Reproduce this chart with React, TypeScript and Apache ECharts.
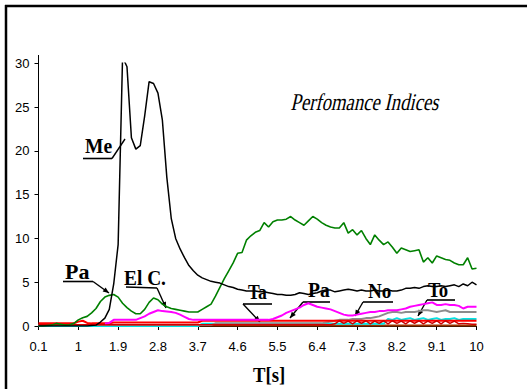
import React, { useEffect, useRef } from "react";
import * as echarts from "echarts";

const categories = [
  "0.1","0.2","0.3","0.4","0.5","0.6","0.7","0.8","0.9","1",
  "1.1","1.2","1.3","1.4","1.5","1.6","1.7","1.8","1.9","2",
  "2.1","2.2","2.3","2.4","2.5","2.6","2.7","2.8","2.9","3",
  "3.1","3.2","3.3","3.4","3.5","3.6","3.7","3.8","3.9","4",
  "4.1","4.2","4.3","4.4","4.5","4.6","4.7","4.8","4.9","5",
  "5.1","5.2","5.3","5.4","5.5","5.6","5.7","5.8","5.9","6",
  "6.1","6.2","6.3","6.4","6.5","6.6","6.7","6.8","6.9","7",
  "7.1","7.2","7.3","7.4","7.5","7.6","7.7","7.8","7.9","8",
  "8.1","8.2","8.3","8.4","8.5","8.6","8.7","8.8","8.9","9",
  "9.1","9.2","9.3","9.4","9.5","9.6","9.7","9.8","9.9","10",
];

// black "Me"
const meValues = [
  0, 0, 0, 0, 0, 0, 0, 0, 0, 0,
  0, 0, 0.05, 0.1, 0.45, 0.9, 1.9, 4.8, 9.3, 30.7,
  29.6, 21.5, 20.2, 20.6, 24.0, 27.9, 27.7, 26.6, 23.5, 17.0,
  12.3, 10.0, 8.8, 7.8, 6.9, 6.3, 5.8, 5.5, 5.3, 5.1,
  5.0, 4.9, 4.7, 4.5, 4.4, 4.2, 4.1, 4.0, 4.0, 4.0,
  3.9, 3.9, 3.8, 3.7, 3.6, 3.6, 3.5, 3.5, 3.6, 3.8,
  3.7, 3.6, 3.7, 3.8, 4.0, 4.1, 4.1, 3.9, 4.0, 4.1,
  4.2, 4.1, 4.0, 4.1, 4.0, 4.0, 4.1, 4.0, 4.0, 4.1,
  4.0, 4.0, 4.1, 4.3, 4.3, 4.4, 4.3, 4.5, 4.6, 4.5,
  4.5, 4.6, 4.5, 4.6, 4.7, 4.5, 4.8, 4.6, 5.0, 4.7,
];

// green "Pa"
const paValues = [
  0, 0, 0.05, 0.1, 0.3, 0.2, 0.1, 0.15, 0.3, 0.7,
  0.95, 1.1, 1.5, 2.0, 2.8, 3.3, 3.5, 3.6, 3.3, 2.6,
  2.1, 1.7, 1.4, 1.4, 1.9, 2.7, 3.2, 3.0, 2.5, 2.2,
  2.0, 1.9, 1.8, 1.7, 1.6, 1.6, 1.6, 1.9, 2.2, 2.5,
  3.4, 4.4, 5.4, 6.3, 7.2, 8.3, 8.4, 9.8, 10.3, 10.7,
  10.9, 11.8, 11.3, 11.9, 12.1, 12.1, 12.2, 12.5, 12.1, 11.8,
  11.5, 12.0, 12.5, 12.2, 11.8, 11.5, 11.3, 11.2, 11.2, 11.8,
  10.6, 11.0, 10.4, 10.9, 10.0, 9.3, 10.4, 9.8, 9.3, 9.6,
  9.0, 8.3, 8.9, 8.7, 8.5, 8.6, 8.7, 7.3, 7.8, 7.2,
  8.0, 7.8, 7.6, 7.5, 7.2, 7.0, 7.0, 7.8, 6.5, 6.6,
];

// magenta "El C." (not visible before 1.6 s)
const elcValues = [
  null, null, null, null, null, null, null, null, null, null,
  null, null, null, null, null, 0.3, 0.35, 0.7, 0.7, 0.7,
  0.7, 0.7, 0.7, 0.9, 1.1, 1.4, 1.6, 1.8, 1.7, 1.65,
  1.6, 1.5, 1.3, 1.05, 0.8, 0.7, 0.7, 0.7, 0.7, 0.7,
  0.7, 0.7, 0.7, 0.7, 0.7, 0.7, 0.7, 0.7, 0.7, 0.7,
  0.7, 0.7, 0.7, 0.8, 1.0, 1.2, 1.5, 1.7, 1.9, 2.1,
  2.4, 2.6, 2.4, 2.2, 2.1, 2.0, 1.9, 1.7, 1.5, 1.3,
  1.2, 1.2, 1.3, 1.4, 1.5, 1.6, 1.6, 1.7, 1.7, 1.8,
  1.8, 1.8, 1.9, 2.0, 2.2, 2.3, 2.4, 2.5, 2.6, 2.7,
  2.4, 2.4, 2.5, 2.4, 2.4, 2.3, 2.0, 2.2, 2.2, 2.2,
];

// grey "No"
const noValues = [
  0.1, 0.1, 0.1, 0.1, 0.1, 0.1, 0.1, 0.1, 0.1, 0.1,
  0.1, 0.1, 0.1, 0.1, 0.1, 0.1, 0.1, 0.1, 0.1, 0.1,
  0.1, 0.1, 0.1, 0.1, 0.1, 0.1, 0.1, 0.1, 0.1, 0.1,
  0.1, 0.1, 0.1, 0.1, 0.1, 0.1, 0.1, 0.1, 0.1, 0.1,
  0.3, 0.3, 0.3, 0.3, 0.3, 0.3, 0.3, 0.3, 0.3, 0.3,
  0.3, 0.3, 0.3, 0.3, 0.3, 0.3, 0.3, 0.3, 0.3, 0.3,
  0.3, 0.3, 0.3, 0.3, 0.3, 0.4, 0.5, 0.6, 0.7, 0.7,
  0.7, 0.8, 0.8, 0.8, 0.9, 0.9, 1.0, 1.1, 1.3, 1.5,
  1.6, 1.6, 1.5, 1.6, 1.6, 1.6, 1.7, 1.8, 1.8, 1.7,
  1.6, 1.7, 1.8, 1.6, 1.6, 1.6, 1.6, 1.6, 1.6, 1.6,
];

// cyan "Ta"
const taValues = [
  0, 0, 0, 0, 0, 0, 0, 0, 0, 0,
  0, 0, 0, 0, 0, 0, 0, 0, 0, 0,
  0, 0, 0, 0, 0, 0, 0, 0, 0, 0,
  0, 0, 0, 0, 0, 0, 0, 0.25, 0.25, 0.25,
  0.25, 0.25, 0.25, 0.25, 0.25, 0.25, 0.25, 0.25, 0.25, 0.25,
  0.25, 0.25, 0.25, 0.25, 0.25, 0.25, 0.25, 0.25, 0.25, 0.25,
  0.25, 0.25, 0.25, 0.25, 0.25, 0.25, 0.25, 0.25, 0.25, 0.25,
  0.25, 0.25, 0.25, 0.25, 0.25, 0.25, 0.25, 0.25, 0.25, 0.8,
  0.7, 0.9, 0.7, 0.8, 0.9, 0.7, 0.8, 0.9, 0.7, 0.8,
  0.9, 0.7, 0.8, 0.8, 0.9, 0.7, 0.8, 0.8, 0.8, 0.8,
];

// red
const redValues = [
  0.3, 0.3, 0.3, 0.3, 0.3, 0.3, 0.3, 0.3, 0.3, 0.5,
  0.6, 0.35, 0.3, 0.3, 0.3, 0.3, 0.3, 0.4, 0.4, 0.4,
  0.4, 0.4, 0.4, 0.4, 0.4, 0.4, 0.4, 0.4, 0.4, 0.4,
  0.4, 0.4, 0.4, 0.4, 0.4, 0.4, 0.4, 0.6, 0.6, 0.6,
  0.6, 0.6, 0.6, 0.6, 0.6, 0.6, 0.6, 0.6, 0.6, 0.6,
  0.6, 0.6, 0.6, 0.6, 0.6, 0.6, 0.6, 0.6, 0.6, 0.6,
  0.6, 0.6, 0.6, 0.6, 0.6, 0.6, 0.6, 0.6, 0.6, 0.6,
  0.6, 0.6, 0.6, 0.6, 0.6, 0.6, 0.6, 0.6, 0.6, 0.6,
  0.6, 0.6, 0.6, 0.6, 0.6, 0.6, 0.6, 0.6, 0.6, 0.6,
  0.6, 0.6, 0.6, 0.6, 0.6, 0.6, 0.6, 0.6, 0.6, 0.6,
];

// dark red "To"
const toValues = [
  0.15, 0.15, 0.15, 0.15, 0.15, 0.15, 0.15, 0.15, 0.15, 0.15,
  0.15, 0.15, 0.15, 0.15, 0.15, 0.15, 0.15, 0.15, 0.15, 0.15,
  0.15, 0.15, 0.15, 0.15, 0.15, 0.15, 0.15, 0.15, 0.15, 0.15,
  0.15, 0.15, 0.15, 0.15, 0.15, 0.15, 0.15, 0.15, 0.15, 0.15,
  0.15, 0.15, 0.15, 0.15, 0.15, 0.15, 0.15, 0.15, 0.15, 0.15,
  0.15, 0.15, 0.15, 0.15, 0.15, 0.15, 0.15, 0.15, 0.15, 0.15,
  0.15, 0.15, 0.15, 0.15, 0.15, 0.15, 0.15, 0.25, 0.6, 0.3,
  0.55, 0.25, 0.6, 0.3, 0.6, 0.25, 0.55, 0.3, 0.6, 0.25,
  0.6, 0.3, 0.55, 0.25, 0.6, 0.3, 0.6, 0.25, 0.55, 0.3,
  0.6, 0.25, 0.6, 0.3, 0.55, 0.25, 0.3, 0.25, 0.2, 0.2,
];

// brown baseline
const brownValues = [
  0.05, 0.05, 0.05, 0.05, 0.05, 0.05, 0.05, 0.05, 0.05, 0.05,
  0.05, 0.05, 0.05, 0.05, 0.05, 0.05, 0.05, 0.05, 0.05, 0.05,
  0.05, 0.05, 0.05, 0.05, 0.05, 0.05, 0.05, 0.05, 0.05, 0.05,
  0.05, 0.05, 0.05, 0.05, 0.05, 0.05, 0.05, 0.05, 0.05, 0.05,
  0.05, 0.05, 0.05, 0.05, 0.05, 0.05, 0.05, 0.05, 0.05, 0.05,
  0.05, 0.05, 0.05, 0.05, 0.05, 0.05, 0.05, 0.05, 0.05, 0.05,
  0.05, 0.05, 0.05, 0.05, 0.05, 0.05, 0.05, 0.05, 0.05, 0.05,
  0.05, 0.05, 0.05, 0.05, 0.05, 0.05, 0.05, 0.05, 0.05, 0.05,
  0.05, 0.05, 0.05, 0.05, 0.05, 0.05, 0.05, 0.05, 0.05, 0.05,
  0.05, 0.05, 0.05, 0.05, 0.05, 0.05, 0.05, 0.05, 0.05, 0.05,
];

const titleText = "Perfomance Indices";
const xAxisTitle = "T[s]";

type Pt = [number, number];
interface Note { text: string; x: number; y: number; sx: number; under: [Pt, Pt]; leader: [Pt, Pt]; arrow: boolean; }

const notes: Note[] = [
  { text: "Me", x: 85, y: 146, sx: 0.89, under: [[83, 158.5], [112, 158.5]], leader: [[112, 158.5], [125, 139]], arrow: false },
  { text: "Pa", x: 65, y: 271, sx: 1.0, under: [[63, 281.5], [93, 281.5]], leader: [[93, 281.5], [109, 293]], arrow: true },
  { text: "El C.", x: 124, y: 278, sx: 0.88, under: [[126, 287], [157, 288]], leader: [[157, 288], [166, 308]], arrow: true },
  { text: "Ta", x: 248, y: 291, sx: 0.8, under: [[243, 304], [272, 304]], leader: [[243, 304], [260, 322]], arrow: true },
  { text: "Pa", x: 308, y: 290, sx: 0.89, under: [[303, 302], [330, 302]], leader: [[303, 302], [290, 318]], arrow: true },
  { text: "No", x: 368, y: 291, sx: 0.87, under: [[363, 302], [393, 302]], leader: [[363, 302], [355, 316]], arrow: true },
  { text: "To", x: 428, y: 289, sx: 0.85, under: [[427, 300], [455, 300]], leader: [[427, 300], [418, 316]], arrow: true },
];

const SERIF = "'Liberation Serif'";

function buildNotes(): any[] {
  const els: any[] = [];
  for (const n of notes) {
    els.push({
      type: "text", x: n.x, y: n.y, scaleX: n.sx,
      style: { text: n.text, x: 0, y: 0, fill: "#000", fontFamily: SERIF, fontWeight: "bold", fontSize: 22, align: "left", verticalAlign: "middle" },
    });
    els.push({ type: "line", shape: { x1: n.under[0][0], y1: n.under[0][1], x2: n.under[1][0], y2: n.under[1][1] }, style: { stroke: "#000", lineWidth: 1.6 } });
    els.push({ type: "line", shape: { x1: n.leader[0][0], y1: n.leader[0][1], x2: n.leader[1][0], y2: n.leader[1][1] }, style: { stroke: "#000", lineWidth: 1.4 } });
    if (n.arrow) {
      const [sx, sy] = n.leader[0];
      const [tx, ty] = n.leader[1];
      const len = Math.hypot(tx - sx, ty - sy);
      const dx = (tx - sx) / len, dy = (ty - sy) / len;
      const bx = tx - dx * 6, by = ty - dy * 6;
      const px = -dy, py = dx;
      els.push({ type: "polygon", shape: { points: [[tx, ty], [bx + px * 2.6, by + py * 2.6], [bx - px * 2.6, by - py * 2.6]] }, style: { fill: "#000" } });
    }
  }
  return els;
}

export default function App() {
  const ref = useRef<HTMLDivElement>(null);
  useEffect(() => {
    if (!ref.current) return;
    const chart = echarts.init(ref.current, null, { renderer: "svg" });
    const line = (name: string, data: (number | null)[], color: string, width: number) => ({
      name, type: "line", data, symbol: "none", showSymbol: false,
      lineStyle: { color, width }, itemStyle: { color }, z: 2,
    });
    chart.setOption({
      animation: false,
      backgroundColor: "#fff",
      textStyle: { fontFamily: "'Liberation Sans', Arial, sans-serif" },
      grid: { left: 38.5, right: 50.5, top: 63.3, bottom: 63, outerBoundsMode: "none", containLabel: false },
      xAxis: {
        type: "category", data: categories, boundaryGap: false,
        axisLine: { lineStyle: { color: "#000", width: 1 } },
        axisTick: { show: true, interval: 8, length: 4, lineStyle: { color: "#000" } },
        axisLabel: { interval: 8, color: "#000", fontSize: 13, margin: 14, fontFamily: "'Liberation Sans', Arial, sans-serif" },
        splitLine: { show: false },
      },
      yAxis: {
        type: "value", min: 0, max: 30, interval: 5,
        axisLine: { show: true, lineStyle: { color: "#000", width: 1 } },
        axisTick: { show: true, length: 4, lineStyle: { color: "#000" } },
        axisLabel: { color: "#000", fontSize: 13, margin: 9, fontFamily: "'Liberation Sans', Arial, sans-serif" },
        splitLine: { show: false },
      },
      series: [
        line("Brown", brownValues, "#993300", 2),
        line("Ta", taValues, "#00E5E5", 2),
        line("No", noValues, "#8C8C8C", 2),
        line("Red", redValues, "#FF0000", 2),
        line("To", toValues, "#D00000", 1.5),
        line("El C.", elcValues, "#FF00FF", 2),
        line("Pa", paValues, "#008000", 1.6),
        line("Me", meValues, "#000000", 1.5),
      ],
      graphic: [
        { type: "line", shape: { x1: 5, y1: 6, x2: 527, y2: 6 }, style: { stroke: "#000", lineWidth: 2.5 } },
        { type: "line", shape: { x1: 6, y1: 5, x2: 6, y2: 389 }, style: { stroke: "#000", lineWidth: 2.5 } },
        { type: "line", shape: { x1: 38.5, y1: 55, x2: 38.5, y2: 64 }, style: { stroke: "#000", lineWidth: 1 } },
        {
          type: "text", x: 292, y: 102, scaleX: 0.78, skewX: -0.22,
          style: { text: titleText, x: 0, y: 0, fill: "#000", fontFamily: SERIF, fontSize: 24, align: "left", verticalAlign: "middle" },
        },
        {
          type: "text", x: 253, y: 374, scaleX: 0.85,
          style: { text: xAxisTitle, x: 0, y: 0, fill: "#000", fontFamily: SERIF, fontWeight: "bold", fontSize: 22, align: "left", verticalAlign: "middle" },
        },
        ...buildNotes(),
      ],
    });
    return () => chart.dispose();
  }, []);
  return <div ref={ref} style={{ position: "fixed", left: 0, top: 0, width: 527, height: 389 }} />;
}
